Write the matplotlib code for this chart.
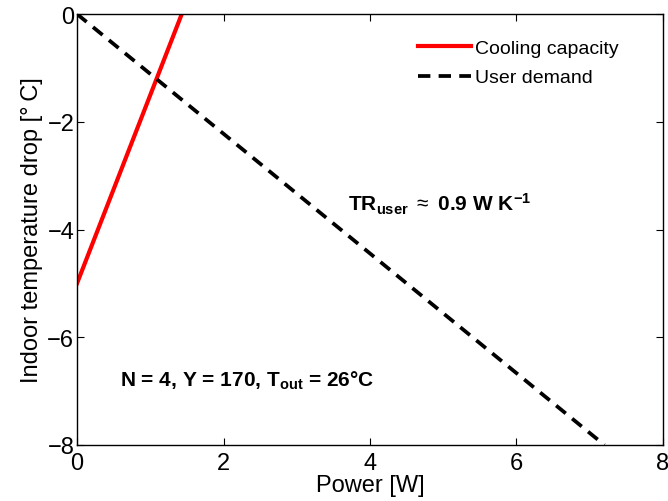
import matplotlib
matplotlib.use("Agg")
import matplotlib.pyplot as plt
import numpy as np

plt.rcParams['font.family'] = ['Liberation Sans', 'DejaVu Sans']
plt.rcParams['mathtext.fontset'] = 'custom'
plt.rcParams['mathtext.rm'] = 'Liberation Sans'
plt.rcParams['mathtext.it'] = 'Liberation Sans:italic'
plt.rcParams['mathtext.bf'] = 'Liberation Sans:bold'

# data
cooling_power = [0.0, 1.43]
cooling_drop = [-5.0, 0.0]
demand_power = [0.0, 7.2]
demand_drop = [0.0, -8.0]
x_ticks = [0, 2, 4, 6, 8]
y_ticks = [-8, -6, -4, -2, 0]

fig = plt.figure(figsize=(6.68, 5.02), dpi=100)
ax = fig.add_axes([0.1153, 0.1116, 0.8772, 0.8584])

ax.plot(cooling_power, cooling_drop, color='#ff0000', lw=3.0, label='Cooling capacity')
ax.plot(demand_power, demand_drop, color='black', lw=2.7, ls=(0, (3.3, 2.2)),
        label='User demand')

ax.set_xlim(0, 8)
ax.set_ylim(-8, 0)
ax.set_xticks(x_ticks)
ax.set_yticks(y_ticks)
ax.tick_params(direction='in', top=True, right=True, labelsize=17, length=5)
ax.tick_params(axis='x', pad=5)
ax.tick_params(axis='y', pad=2)
for s in ax.spines.values():
    s.set_linewidth(1.0)

ax.set_xlabel('Power [W]', fontsize=17, labelpad=0)
ax.set_ylabel('Indoor temperature drop [°\u2009C]', fontsize=17, labelpad=3)

ax.text(3.70, -3.65, r'TR$_{\mathbf{user}}$ $\approx$ 0.9 W K$^{\mathbf{-1}}$',
        fontsize=15, fontweight='bold')
ax.text(0.59, -6.90, r'N = 4, Y = 170, T$_{\mathbf{out}}$ = 26°C',
        fontsize=15, fontweight='bold')

ax.legend(loc='upper left', frameon=False, fontsize=14, handlelength=2.7,
          bbox_to_anchor=(0.582, 0.942), labelspacing=0.62, handletextpad=0.25,
          borderpad=0, borderaxespad=0)

fig.savefig('out.png', dpi=100)
